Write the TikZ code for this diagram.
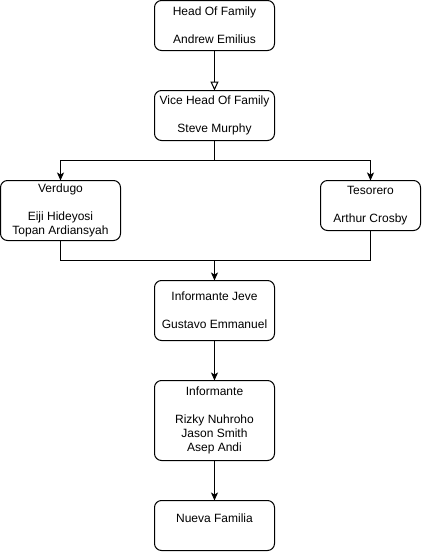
\documentclass[tikz,border=0pt]{standalone}
\usepackage{fontspec}
\setmainfont{Liberation Sans}
\usetikzlibrary{arrows.meta}
\begin{document}
\begin{tikzpicture}[x=1pt,y=-1pt,
  box/.style={draw=black, line width=1pt, rounded corners=7pt, fill=white,
    align=center, inner sep=0pt, outer sep=0pt, minimum width=#1,
    font=\fontsize{12}{14}\selectfont},
  conn/.style={draw=black, line width=1pt},
  sol/.style={conn, -{Stealth[length=8pt,width=7pt,inset=2pt]}},
  opn/.style={conn, -{Triangle[open,length=9pt,width=8pt]}}]
\useasboundingbox (0,0) rectangle (421,552);
\node[box=120pt, minimum height=50pt] (head) at (214.5,25.5) {Head Of Family\\[14pt]Andrew Emilius};
\node[box=120pt, minimum height=50pt] (vice) at (214.5,115.5) {Vice Head Of Family\\[14pt]Steve Murphy};
\node[box=120pt, minimum height=60pt] (verd) at (60.5,210.5) {Verdugo\\[14pt]Eiji Hideyosi\\Topan Ardiansyah};
\node[box=100pt, minimum height=50pt] (teso) at (370.5,205.5) {Tesorero\\[14pt]Arthur Crosby};
\node[box=120pt, minimum height=60pt] (jeve) at (214.5,310.5) {Informante Jeve\\[14pt]Gustavo Emmanuel};
\node[box=120pt, minimum height=80pt] (info) at (214.5,420.5) {Informante\\[14pt]Rizky Nuhroho\\Jason Smith\\Asep Andi};
\node[box=120pt, minimum height=50pt] (nueva) at (214.5,525.5) {Nueva Familia\\\mbox{}};
\coordinate (s) at (214.5,160.5);
\coordinate (m) at (214.5,260.5);
\draw[opn] (head) -- (vice);
\draw[conn] (vice.south) -- (s);
\draw[sol] (s) -| (verd.north);
\draw[sol] (s) -| (teso.north);
\draw[conn] (verd.south) |- (m) -| (teso.south);
\draw[sol] (m) -- (jeve.north);
\draw[sol] (jeve) -- (info);
\draw[sol] (info) -- (nueva);
\end{tikzpicture}
\end{document}
